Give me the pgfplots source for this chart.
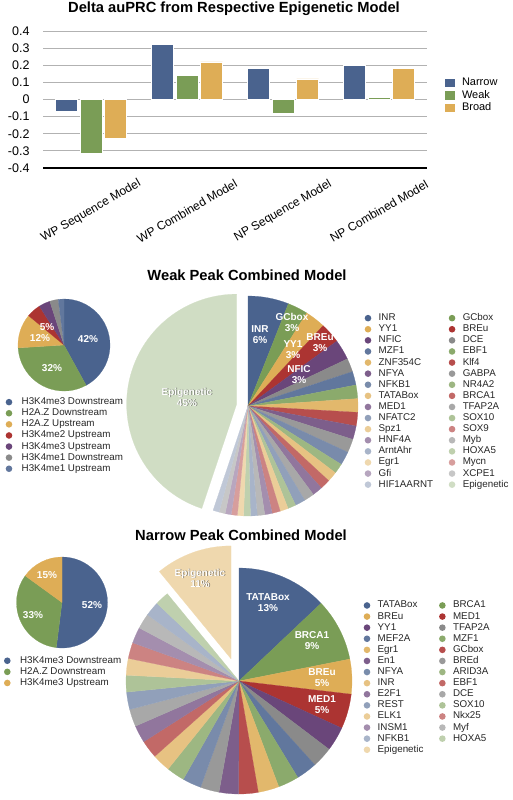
\documentclass[border=0pt]{standalone}
\usepackage{fontspec}
\setmainfont{Liberation Sans}
\usepackage{pgfplots}
\usepackage{pgfplotstable}
\pgfplotsset{compat=1.18}

\definecolor{P1}{RGB}{74,99,142}
\definecolor{P2}{RGB}{122,157,86}
\definecolor{P3}{RGB}{222,173,86}
\definecolor{P4}{RGB}{172,52,50}
\definecolor{P5}{RGB}{106,70,122}
\definecolor{P6}{RGB}{138,138,138}

\newcommand\ttl{\fontsize{14.7bp}{16bp}\selectfont\bfseries}
\newcommand\lab{\fontsize{10bp}{11bp}\selectfont\bfseries}

% ---------- pie data ----------
\pgfplotstableread[col sep=comma,row sep=\\]{
name,value,explode\\
H3K4me3 Downstream,42,0\\
H2A.Z Downstream,32,0\\
H2A.Z Upstream,12,0\\
H3K4me2 Upstream,5,0\\
H3K4me3 Upstream,4,0\\
H3K4me1 Downstream,3,0\\
H3K4me1 Upstream,2,0\\
}\wsmall

\pgfplotstableread[col sep=comma,row sep=\\]{
name,value,explode\\
INR,6,0\\
GCbox,3,0\\
YY1,3,0\\
BREu,3,0\\
NFIC,3,0\\
DCE,2,0\\
MZF1,2,0\\
EBF1,2,0\\
ZNF354C,2,0\\
Klf4,2,0\\
NFYA,2,0\\
GABPA,2,0\\
NFKB1,2,0\\
NR4A2,1.5,0\\
TATABox,1.5,0\\
BRCA1,1.5,0\\
MED1,1.5,0\\
TFAP2A,1.5,0\\
NFATC2,1.5,0\\
SOX10,1.2,0\\
Spz1,1.2,0\\
SOX9,1.2,0\\
HNF4A,1.1,0\\
Myb,1.1,0\\
ArntAhr,1,0\\
HOXA5,1,0\\
Egr1,0.9,0\\
Mycn,0.9,0\\
Gfi,0.9,0\\
XCPE1,0.9,0\\
HIF1AARNT,0.9,0\\
Epigenetic,45,11.5\\
}\wbig

\pgfplotstableread[col sep=comma,row sep=\\]{
name,value,explode\\
H3K4me3 Downstream,52,0\\
H2A.Z Downstream,33,0\\
H3K4me3 Upstream,15,0\\
}\nsmall

\pgfplotstableread[col sep=comma,row sep=\\]{
name,value,explode\\
TATABox,13,0\\
BRCA1,9,0\\
BREu,5,0\\
MED1,5,0\\
YY1,3.5,0\\
TFAP2A,3,0\\
MEF2A,3,0\\
MZF1,3,0\\
Egr1,3,0\\
GCbox,2.8,0\\
En1,2.8,0\\
BREd,2.7,0\\
NFYA,2.7,0\\
ARID3A,2.6,0\\
INR,2.6,0\\
EBF1,2.6,0\\
E2F1,2.5,0\\
DCE,2.5,0\\
REST,2.5,0\\
SOX10,2.4,0\\
ELK1,2.4,0\\
Nkx25,2.3,0\\
INSM1,2.3,0\\
Myf,2.2,0\\
NFKB1,2.1,0\\
HOXA5,2.0,0\\
Epigenetic,11,23.5\\
}\nbig

\def\pieGap{13.4bp}
\newcommand\drawpie[2]{%
  \pgfplotstablegetrowsof{#1}%
  \pgfmathtruncatemacro\pieN{\pgfplotsretval-1}%
  \def\pieTot{0}%
  \pgfplotsforeachungrouped \pieI in {0,...,\pieN}{%
    \pgfplotstablegetelem{\pieI}{value}\of{#1}%
    \pgfmathsetmacro\pieTot{\pieTot+\pgfplotsretval}%
  }%
  \def\pieCum{0}%
  \pgfplotsforeachungrouped \pieI in {0,...,\pieN}{%
    \pgfplotstablegetelem{\pieI}{value}\of{#1}\let\pieV\pgfplotsretval
    \pgfplotstablegetelem{\pieI}{explode}\of{#1}\let\pieEx\pgfplotsretval
    \pgfplotstablegetelem{\pieI}{name}\of{#1}\let\pieNm\pgfplotsretval
    \pgfmathsetmacro\pieSa{90-360*(\pieCum/\pieTot)}%
    \pgfmathsetmacro\pieCum{\pieCum+\pieV}%
    \pgfmathsetmacro\pieEa{90-360*(\pieCum/\pieTot)}%
    \pgfmathsetmacro\pieMa{(\pieSa+\pieEa)/2}%
    \pgfmathsetmacro\pieOx{\pieEx*cos(\pieMa)}%
    \pgfmathsetmacro\pieOy{\pieEx*sin(\pieMa)}%
    \pgfmathsetmacro\piePx{\pieOx+#2*cos(\pieSa)}%
    \pgfmathsetmacro\piePy{\pieOy+#2*sin(\pieSa)}%
    \pgfmathtruncatemacro\pieCb{mod(\pieI,6)+1}%
    \pgfmathtruncatemacro\pieCp{100-13*floor(\pieI/6)}%
    \edef\pieCmd{\noexpand\filldraw[P\pieCb!\pieCp!white, line width=0.2bp] (axis cs:\pieOx,\pieOy) -- (axis cs:\piePx,\piePy) arc[start angle=\pieSa, end angle=\pieEa, radius=#2bp] -- cycle;%
      \noexpand\addlegendimage{legend image code/.code={\noexpand\fill[fill=P\pieCb!\pieCp!white, draw=none] (3.3bp,0bp) circle (3.3bp); \noexpand\path[draw=none, fill=none] (0bp,0bp) -- (\pieGap,0bp);}}%
      \noexpand\addlegendentryexpanded{\pieNm}}%
    \pieCmd
  }%
}

% white slice label
\newcommand\plab[3]{%
  \node[font=\lab, text=white, align=center] at (axis cs:#1,#2) {#3};}
% white slice label with dark shadow (for pale slices)
\newcommand\slab[3]{%
  \node[font=\lab, text=black, opacity=0.5, align=center, xshift=0.7bp, yshift=-0.7bp] at (axis cs:#1,#2) {#3};
  \node[font=\lab, text=white, align=center] at (axis cs:#1,#2) {#3};}

\pgfplotsset{
  pieaxis/.style={hide axis, x=1bp, y=1bp, xmin=-100, xmax=100, ymin=-100, ymax=100,
    anchor=center, clip=false, legend cell align=left,
    legend style={draw=none, fill=none, inner sep=0pt, outer sep=0pt, anchor=north west,
      font=\fontsize{9.8bp}{11bp}\selectfont, text=black!85,
      nodes={inner sep=0.6bp, text height=7.2bp, text depth=2.3bp}, row sep=0.4bp},
  },
}

\begin{document}
\begin{tikzpicture}
\path[use as bounding box] (0bp,0bp) rectangle (513bp,-800bp);

% ---------- bar chart ----------
\node[font=\ttl] at (234bp,-9bp) {Delta auPRC from Respective Epigenetic Model};
\begin{axis}[
  at={(43bp,-168bp)}, anchor=south west,
  scale only axis, width=384bp, height=137bp,
  ybar=2.5bp, bar width=22bp,
  xmin=-0.5, xmax=3.5, ymin=-0.4, ymax=0.4,
  xtick={0,1,2,3},
  xticklabels={WP Sequence Model, WP Combined Model, NP Sequence Model, NP Combined Model},
  ytick={-0.4,-0.3,-0.2,-0.1,0,0.1,0.2,0.3,0.4},
  yticklabels={-0.4,-0.3,-0.2,-0.1,0,0.1,0.2,0.3,0.4},
  major tick length=0pt,
  ymajorgrids, grid style={draw=black!30, line width=0.9bp},
  separate axis lines,
  axis x line*=bottom, axis y line*=left,
  x axis line style={black, line width=1.3bp, -},
  y axis line style={draw=none},
  yticklabel style={font=\fontsize{12.5bp}{14bp}\selectfont, xshift=-10bp},
  xticklabel style={font=\fontsize{12bp}{14bp}\selectfont, yshift=-43bp, anchor=center, rotate=30},
  every axis plot post/.append style={legend image code/.code={\fill[##1, draw=none] (0bp,-4.3bp) rectangle (10bp,4.4bp); \path[draw=none, fill=none] (0bp,0bp) -- (16bp,0bp);}},
  legend style={at={(1.0469,0.666)}, anchor=north west, draw=none, fill=none, inner sep=0pt,
    font=\fontsize{11bp}{12bp}\selectfont, nodes={inner sep=0.8bp, text height=8bp, text depth=2.4bp}, row sep=0.5bp},
  legend cell align=left,
]
\addplot[fill=P1, draw=white, line width=0.5bp] coordinates {(0,-0.066) (1,0.32) (2,0.182) (3,0.20)};
\addplot[fill=P2, draw=white, line width=0.5bp] coordinates {(0,-0.316) (1,0.141) (2,-0.078) (3,0.012)};
\addplot[fill=P3, draw=white, line width=0.5bp] coordinates {(0,-0.227) (1,0.22) (2,0.121) (3,0.18)};
\legend{Narrow, Weak, Broad}
\end{axis}

% ---------- weak peak ----------
\node[font=\ttl] at (247bp,-275bp) {Weak Peak Combined Model};
\def\pieGap{15.4bp}
\begin{axis}[pieaxis, at={(64bp,-345bp)},
  legend style={at={(0.2085,0.241)}}]
\drawpie{\wsmall}{46}
\plab{24}{6}{42\%}
\plab{-12}{-23}{32\%}
\plab{-24}{7}{12\%}
\plab{-17}{18}{5\%}
\end{axis}

\def\pieGap{13.4bp}
\begin{axis}[pieaxis, at={(248bp,-406bp)}, legend columns=2,
  legend style={at={(1.0835,0.966)}, /tikz/every even column/.append style={column sep=15bp}}]
\drawpie{\wbig}{110}
\plab{12}{71}{INR\\6\%}
\plab{44}{84}{GCbox\\3\%}
\plab{45}{56}{YY1\\3\%}
\plab{72}{63}{BREu\\3\%}
\plab{51}{31}{NFIC\\3\%}
\slab{-61}{9}{Epigenetic\\45\%}
\end{axis}

% ---------- narrow peak ----------
\node[font=\ttl] at (241bp,-535bp) {Narrow Peak Combined Model};
\def\pieGap{15.4bp}
\begin{axis}[pieaxis, at={(62bp,-602.5bp)},
  legend style={at={(0.21,0.2355)}}]
\drawpie{\nsmall}{45.5}
\plab{30}{-2.5}{52\%}
\plab{-29}{-12.5}{33\%}
\plab{-15}{27.5}{15\%}
\end{axis}

\def\pieGap{13.4bp}
\begin{axis}[pieaxis, at={(239bp,-681bp)}, legend columns=2,
  legend style={at={(1.1235,0.9045)}, /tikz/every even column/.append style={column sep=15bp}}]
\drawpie{\nbig}{113}
\plab{29}{78}{TATABox\\13\%}
\plab{73}{40}{BRCA1\\9\%}
\plab{83}{3}{BREu\\5\%}
\plab{83}{-24}{MED1\\5\%}
\slab{-39}{103}{Epigenetic\\11\%}
\end{axis}
\end{tikzpicture}
\end{document}
